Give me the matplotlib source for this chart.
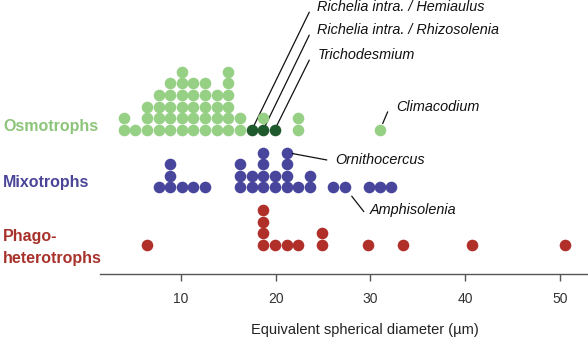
import matplotlib.pyplot as plt
import numpy as np

# equivalent spherical diameter (um) of each dot column, and how many dots are stacked there
osmo_size = [4.0, 5.2, 6.4, 7.7, 8.9, 10.1, 11.3, 12.6, 13.8, 15.0, 16.3, 18.7, 22.4, 31.0]
osmo_count = [2, 1, 3, 4, 5, 6, 5, 5, 4, 6, 2, 1, 2, 1]

# diazotroph symbioses (dark green), sit at the bottom of their columns
diazo_size = [17.5, 18.7, 19.9]
diazo_count = [1, 1, 1]

mixo_size = [7.7, 8.9, 10.1, 11.3, 12.6, 16.3, 17.5, 18.7, 19.9, 21.2, 22.4, 23.6,
             26.1, 27.3, 29.8, 31.0, 32.2]
mixo_count = [1, 3, 1, 1, 1, 3, 2, 4, 2, 4, 1, 2, 1, 1, 1, 1, 1]

phago_size = [6.5, 18.7, 19.9, 21.2, 22.4, 24.9, 29.7, 33.4, 40.7, 50.5]
phago_count = [1, 4, 1, 1, 1, 2, 1, 1, 1, 1]

groups = ["Osmotrophs", "Mixotrophs", "Phago-\nheterotrophs"]
xticks = [10, 20, 30, 40, 50]

light_green = "#95d085"
dark_green = "#1f5a2c"
blue = "#48459d"
red = "#b02f29"

W, H = 588, 340
fig = plt.figure(figsize=(W / 100, H / 100), dpi=100)
ax = fig.add_axes([100 / W, 65.7 / H, 488 / W, 274.3 / H])

step = 0.2026   # vertical distance between stacked dots
ms = 70

def stack(sizes, counts, level, color, heights):
    xs, ys = [], []
    for s, c in zip(sizes, counts):
        for i in range(c):
            k = heights.get(s, 0)
            xs.append(s)
            ys.append(level + k * step)
            heights[s] = k + 1
    ax.scatter(xs, ys, s=ms, color=color, linewidths=0, zorder=3)

osmo_h = {}
stack(diazo_size, diazo_count, 2, dark_green, osmo_h)
stack(osmo_size, osmo_count, 2, light_green, osmo_h)
mixo_h = {}
stack(mixo_size, mixo_count, 1, blue, mixo_h)
phago_h = {}
stack(phago_size, phago_count, 0, red, phago_h)

# annotations: (label, dot x, dot level, label x, label y, shrink at dot)
notes = [
    ("Richelia intra. / Hemiaulus", diazo_size[0], 2, 24.4, 4.139, 0),
    ("Richelia intra. / Rhizosolenia", diazo_size[1], 2, 24.4, 3.739, 0),
    ("Trichodesmium", diazo_size[2], 2, 24.4, 3.304, 0),
    ("Climacodium", osmo_size[-1], 2, 32.66, 2.405, 5),
]
for txt, dx, dy, lx, ly, shr in notes:
    ax.text(lx, ly, txt, ha="left", va="center", style="italic", fontsize=10.4,
            family="Liberation Sans", color="#111111")
    ax.annotate("", xy=(dx, dy), xytext=(lx - 0.85, ly - 0.09),
                arrowprops=dict(arrowstyle="-", color="#111111", lw=0.9,
                                shrinkA=0, shrinkB=shr), zorder=2)

# Ornithocercus points at the top of the 21.2 um mixotroph column
orn_x = mixo_size[9]
orn_y = 1 + (mixo_h[orn_x] - 1) * step
ax.text(26.3, 1.478, "Ornithocercus", ha="left", va="center", style="italic",
        fontsize=10.4, family="Liberation Sans", color="#111111")
ax.annotate("", xy=(orn_x, orn_y), xytext=(25.4, 1.478),
            arrowprops=dict(arrowstyle="-", color="#111111", lw=0.9, shrinkA=0, shrinkB=4))

amp_x = mixo_size[13]
ax.text(29.95, 0.609, "Amphisolenia", ha="left", va="center", style="italic",
        fontsize=10.4, family="Liberation Sans", color="#111111")
ax.annotate("", xy=(amp_x, 1), xytext=(29.3, 0.58),
            arrowprops=dict(arrowstyle="-", color="#111111", lw=0.9, shrinkA=0, shrinkB=8))

ax.set_xlim(1.5, 52.92)
ax.set_ylim(-0.51, 4.26)
for side in ["top", "right", "left"]:
    ax.spines[side].set_visible(False)
ax.spines["bottom"].set_color("#555555")
ax.spines["bottom"].set_linewidth(1.0)
ax.set_yticks([])
ax.set_xticks(xticks)
ax.tick_params(axis="x", length=5, width=1, color="#555555", pad=8,
               labelsize=10, labelcolor="#333333")
for lab in ax.get_xticklabels():
    lab.set_family("Liberation Sans")

fig.text(365 / W, 1 - 330 / H, "Equivalent spherical diameter (\u00b5m)", ha="center",
         va="center", fontsize=10.5, family="Liberation Sans", color="#222222")

label_colors = ["#8cc47a", "#4a4598", "#a8322b"]
label_base = [130.5, 187, 263]
for g, c, b in zip(groups, label_colors, label_base):
    fig.text(3 / W, 1 - b / H, g, ha="left", va="baseline", fontsize=11.5,
             fontweight="bold", family="Liberation Sans", color=c, linespacing=1.55)

fig.savefig("out.png", dpi=100)
